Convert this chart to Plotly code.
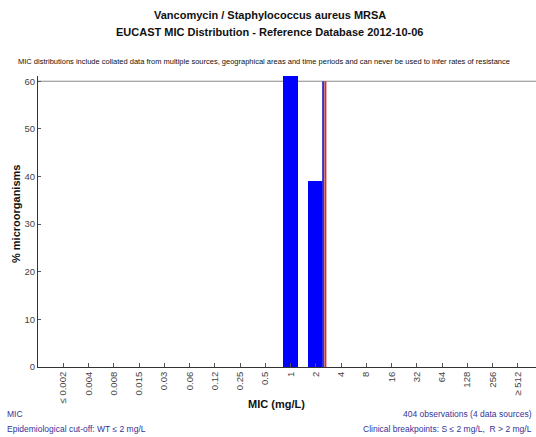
import plotly.graph_objects as go

categories = ["0.002", "0.004", "0.008", "0.015", "0.03", "0.06", "0.12", "0.25", "0.5",
              "1", "2", "4", "8", "16", "32", "64", "128", "256", "512"]
tick_labels = ["≤ 0.002", "0.004", "0.008", "0.015", "0.03", "0.06", "0.12", "0.25", "0.5",
               "1", "2", "4", "8", "16", "32", "64", "128", "256", "≥ 512"]
percent = [0, 0, 0, 0, 0, 0, 0, 0, 0, 61.0, 39.0, 0, 0, 0, 0, 0, 0, 0, 0]
ecoff_mic = "2"
breakpoint_mic = "2"

FONT = "Arial, Liberation Sans, sans-serif"
idx = list(range(len(categories)))

fig = go.Figure()
fig.add_trace(go.Bar(x=idx, y=percent, width=0.6, marker=dict(color="#0000FF", line=dict(width=0)),
                     showlegend=False, hoverinfo="skip"))

e = categories.index(ecoff_mic)
b = categories.index(breakpoint_mic)
fig.add_shape(type="line", xref="x", yref="y", x0=e + 0.29, x1=e + 0.29, y0=0, y1=60,
              line=dict(color="#3333CC", width=2))
fig.add_shape(type="line", xref="x", yref="y", x0=b + 0.38, x1=b + 0.38, y0=0, y1=60,
              line=dict(color="#CC3333", width=2))
# top border line at 60
fig.add_shape(type="line", xref="paper", yref="y", x0=0, x1=1, y0=60, y1=60,
              line=dict(color="#888888", width=1), layer="below")

fig.update_xaxes(range=[-1, 18.72], tickmode="array", tickvals=idx, ticktext=tick_labels,
                 tickangle=-90, ticks="inside", ticklen=4, tickcolor="#555555",
                 showline=True, linecolor="#333333", linewidth=1, showgrid=False, zeroline=False,
                 tickfont=dict(family=FONT, size=9.5, color="#444444"))
fig.update_yaxes(range=[0, 61.1], tickvals=[0, 10, 20, 30, 40, 50, 60], ticks="inside", ticklen=3,
                 tickcolor="#555555", showline=True, linecolor="#333333", linewidth=1, showgrid=False,
                 zeroline=False, tickfont=dict(family=FONT, size=9.5, color="#444444"))

H = 437
annotations = [
    dict(text="<b>Vancomycin / Staphylococcus aureus MRSA</b>", x=270, y=15, size=11, color="#111111", xanchor="center"),
    dict(text="<b>EUCAST MIC Distribution - Reference Database 2012-10-06</b>", x=269, y=32, size=11, color="#111111", xanchor="center"),
    dict(text="MIC distributions include collated data from multiple sources, geographical areas and time periods and can never be used to infer rates of resistance",
         x=264, y=62, size=7.5, color="#111111", xanchor="center"),
    dict(text="<b>MIC (mg/L)</b>", x=276, y=404, size=11, color="#111111", xanchor="center"),
    dict(text="MIC", x=5, y=414, size=8.5, color="#333399", xanchor="left"),
    dict(text="Epidemiological cut-off: WT ≤ 2 mg/L", x=5, y=429, size=8.5, color="#333399", xanchor="left"),
    dict(text="404 observations (4 data sources)", x=534, y=414, size=8.5, color="#333399", xanchor="right"),
    dict(text="Clinical breakpoints: S ≤ 2 mg/L,  R > 2 mg/L", x=534, y=429, size=8.5, color="#333399", xanchor="right"),
]

plot_top, plot_bottom, plot_left, plot_right = 76, 437 - 70, 38, 536
for a in annotations:
    fig.add_annotation(text=a["text"], xref="paper", yref="paper",
                       x=(a["x"] - plot_left) / (plot_right - plot_left),
                       y=(plot_bottom - a["y"]) / (plot_bottom - plot_top),
                       xanchor=a["xanchor"], yanchor="middle", showarrow=False,
                       font=dict(family=FONT, size=a["size"], color=a["color"]))

fig.add_annotation(text="<b>% microorganisms</b>", xref="paper", yref="paper",
                   x=(16 - plot_left) / (plot_right - plot_left),
                   y=(plot_bottom - 214) / (plot_bottom - plot_top),
                   textangle=-90, xanchor="center", yanchor="middle", showarrow=False,
                   font=dict(family=FONT, size=11, color="#111111"))

fig.update_layout(width=536, height=437, margin=dict(l=38, r=0, t=76, b=70),
                  plot_bgcolor="white", paper_bgcolor="white", bargap=0)

fig.write_html("out.html")
